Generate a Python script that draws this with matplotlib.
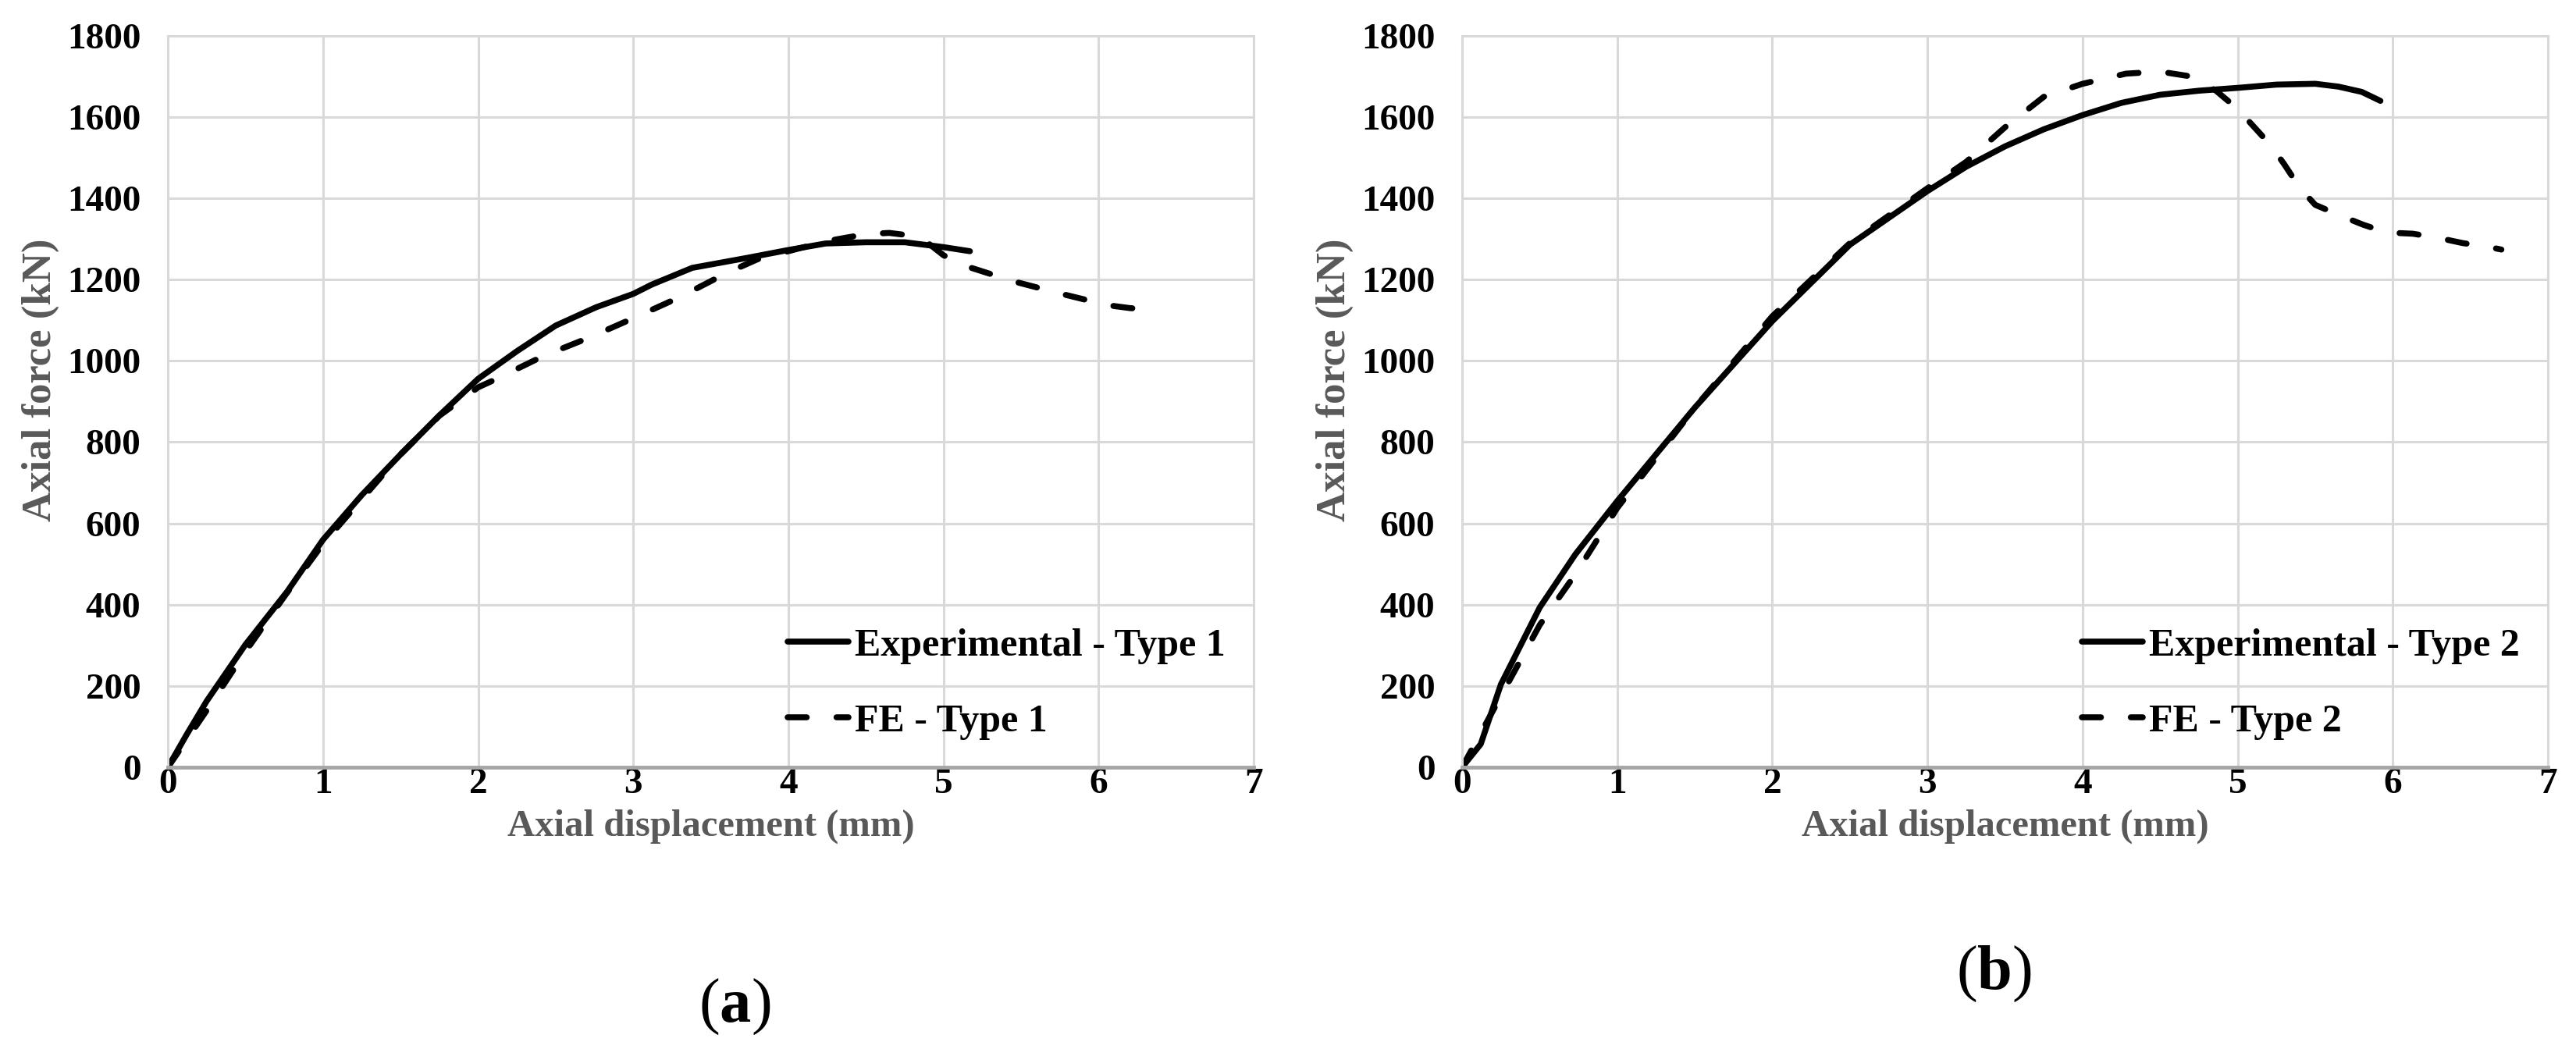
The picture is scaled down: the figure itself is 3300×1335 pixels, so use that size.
#!/usr/bin/env python3
"""
Axial force vs axial displacement: experimental vs FE, Type 1 (a) and Type 2 (b)
"""

import matplotlib
matplotlib.use('Agg')
import matplotlib.pyplot as plt

# ---- data ----
exp1_x = [0, 0.12, 0.25, 0.5, 0.77, 1.0, 1.25, 1.5, 1.75, 2.0, 2.25, 2.5, 2.76,
          3.0, 3.12, 3.38, 3.74, 4.0, 4.24, 4.5, 4.75, 5.0, 5.17]
exp1_y = [0, 80, 163, 302, 433, 560, 670, 770, 866, 956, 1024, 1087, 1132,
          1165, 1188, 1229, 1254, 1273, 1289, 1292, 1292, 1280, 1270]

fe1_x = [0, 0.25, 0.5, 0.75, 1.0, 1.5, 1.75, 2.0, 2.12, 2.42, 2.72, 3.0, 3.3,
         3.6, 3.8, 4.0, 4.25, 4.5, 4.65, 4.8, 4.9, 5.0, 5.13, 5.45, 5.75, 6.06,
         6.2, 6.4]
fe1_y = [0, 140, 285, 420, 550, 770, 865, 935, 956, 1012, 1058, 1105, 1157,
         1216, 1250, 1270, 1295, 1312, 1315, 1308, 1290, 1260, 1235, 1196, 1166,
         1137, 1130, 1125]

exp2_x = [0, 0.12, 0.25, 0.5, 0.73, 1.0, 1.5, 2.0, 2.5, 3.0, 3.25, 3.5, 3.75,
          4.0, 4.25, 4.5, 4.75, 5.0, 5.25, 5.5, 5.65, 5.8, 5.92]
exp2_y = [0, 57, 204, 393, 524, 655, 885, 1098, 1286, 1418, 1478, 1528, 1570,
          1605, 1635, 1655, 1665, 1672, 1680, 1682, 1675, 1662, 1640]

fe2_x = [0, 0.25, 0.5, 0.73, 1.0, 1.5, 2.0, 2.5, 3.0, 3.25, 3.5, 3.75, 4.0,
         4.28, 4.5, 4.7, 4.86, 5.0, 5.21, 5.3, 5.4, 5.5, 5.66, 5.81, 5.96, 6.13,
         6.29, 6.45, 6.61, 6.7]
fe2_y = [0, 175, 350, 475, 638, 885, 1110, 1290, 1425, 1490, 1575, 1650, 1682,
         1707, 1712, 1700, 1665, 1620, 1532, 1484, 1426, 1384, 1358, 1335, 1316,
         1313, 1303, 1290, 1281, 1274]

x_ticks = [0, 1, 2, 3, 4, 5, 6, 7]
y_ticks = [0, 200, 400, 600, 800, 1000, 1200, 1400, 1600, 1800]

panels = [
    (exp1_x, exp1_y, fe1_x, fe1_y, 'Experimental - Type 1', 'FE - Type 1', 'a'),
    (exp2_x, exp2_y, fe2_x, fe2_y, 'Experimental - Type 2', 'FE - Type 2', 'b'),
]

# ---- style ----
plt.rcParams['font.family'] = ['Liberation Serif', 'DejaVu Serif']
plt.rcParams['mathtext.fontset'] = 'custom'
plt.rcParams['mathtext.rm'] = 'Liberation Serif'
plt.rcParams['mathtext.bf'] = 'Liberation Serif:bold'

GRID = '#d9d9d9'
LABEL_GRAY = '#595959'

fig = plt.figure(figsize=(33, 13.35), dpi=100)

axes_lefts = [0.0652, 0.5676]
tag_pos = [(0.2851, 0.034), (0.774, 0.065)]

for i, (ex, ey, fx, fy, lab_e, lab_f, tag) in enumerate(panels):
    ax = fig.add_axes([axes_lefts[i], 0.2637, 0.4215, 0.7019])

    ax.plot(ex, ey, color='black', linewidth=5.5, solid_capstyle='round',
            solid_joinstyle='round', label=lab_e)
    ax.plot(fx, fy, color='black', linewidth=5.5, dashes=(3.2, 5.0),
            dash_capstyle='round', dash_joinstyle='round', label=lab_f)

    ax.set_xlim(0, 7)
    ax.set_ylim(0, 1800)
    ax.set_xticks(x_ticks)
    ax.set_yticks(y_ticks)
    ax.grid(True, color=GRID, linewidth=2.2)
    ax.set_axisbelow(True)

    for side in ['top', 'right', 'left']:
        ax.spines[side].set_color(GRID)
        ax.spines[side].set_linewidth(2.2)
    ax.spines['bottom'].set_color('#a6a6a6')
    ax.spines['bottom'].set_linewidth(3.5)

    ax.tick_params(axis='both', length=0, labelsize=34, colors='black')
    ax.tick_params(axis='y', pad=25)
    ax.tick_params(axis='x', pad=1)
    for t in ax.get_xticklabels() + ax.get_yticklabels():
        t.set_fontweight('bold')

    ax.set_xlabel('Axial displacement (mm)', fontsize=35, fontweight='bold',
                  color=LABEL_GRAY)
    ax.set_ylabel('Axial force (kN)', fontsize=38, fontweight='bold',
                  color=LABEL_GRAY)
    ax.xaxis.set_label_coords(0.5, -0.057)
    ax.yaxis.set_label_coords(-0.100, 0.53)

    leg = ax.legend(loc='center left', bbox_to_anchor=(0.571, 0.114),
                    frameon=False, fontsize=36, handlelength=1.56,
                    handletextpad=0.15, labelspacing=1.02, borderpad=0,
                    borderaxespad=0)
    for t in leg.get_texts():
        t.set_fontweight('bold')

    fig.text(tag_pos[i][0], tag_pos[i][1],
             r'$\mathrm{(}\mathbf{' + tag + r'}\mathrm{)}$',
             fontsize=58, ha='center', va='center')

fig.savefig('out.png', dpi=100, facecolor='white')
